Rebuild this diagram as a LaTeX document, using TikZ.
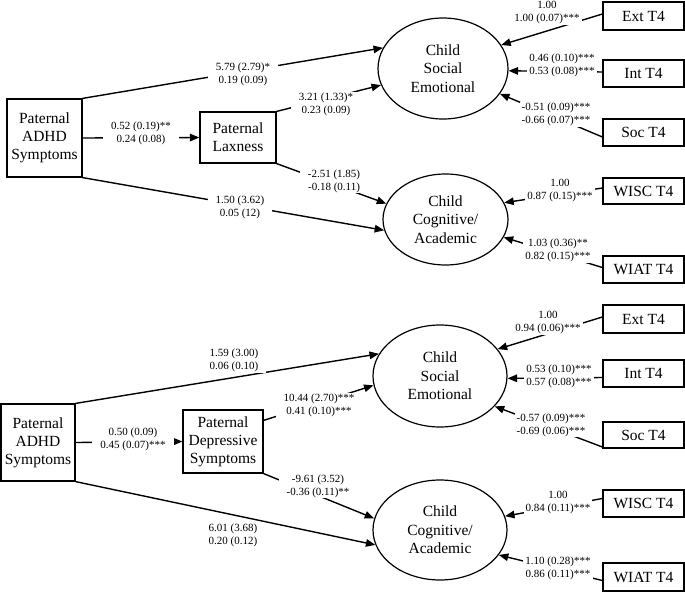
\documentclass[tikz,border=0pt]{standalone}
\usepackage{fontspec}
\setmainfont{Liberation Serif}
\usetikzlibrary{shapes.geometric,arrows.meta}
\pgfdeclarelayer{bg}
\pgfdeclarelayer{mid}
\pgfsetlayers{bg,mid,main}
\tikzset{
  box/.style={draw, line width=1.2pt, rectangle, inner sep=1pt, align=center,
    font=\fontsize{15.5}{18}\selectfont},
  lat/.style={draw, line width=1.2pt, ellipse, inner sep=0pt, align=center,
    font=\fontsize{15.5}{18.5}\selectfont},
  conn/.style={line width=1.4pt, -{Triangle[length=9.5pt,width=7.5pt]}},
  lab/.style={fill=white, inner xsep=8pt, inner ysep=1pt, align=center,
    font=\fontsize{11}{13}\selectfont},
  mlab/.style={lab, inner xsep=2pt}
}
\begin{document}
\begin{tikzpicture}[x=1pt,y=-1pt]
\useasboundingbox (0,0) rectangle (685,592);
% ---------- top panel ----------
\node[box, minimum width=75pt, minimum height=78pt] (adhd1) at (44.5,138) {Paternal\\ADHD\\Symptoms};
\node[box, minimum width=76pt, minimum height=51pt] (lax) at (238,137.5) {Paternal\\Laxness};
\node[lat, minimum width=130pt, minimum height=101pt] (se1) at (443,68.5) {Child\\Social\\Emotional};
\node[lat, minimum width=125pt, minimum height=91pt] (cog1) at (445.5,219.5) {Child\\Cognitive/\\Academic};
\node[box, minimum width=81pt, minimum height=28pt] (ext1) at (643.5,16) {Ext T4};
\node[box, minimum width=81pt, minimum height=27pt] (int1) at (643.5,73.5) {Int T4};
\node[box, minimum width=81pt, minimum height=27pt] (soc1) at (643.5,132.5) {Soc T4};
\node[box, minimum width=81pt, minimum height=26pt] (wisc1) at (643.5,191) {WISC T4};
\node[box, minimum width=81pt, minimum height=27pt] (wiat1) at (643.5,269.5) {WIAT T4};
% ---------- bottom panel ----------
\node[box, minimum width=74pt, minimum height=77pt] (adhd2) at (38,442.5) {Paternal\\ADHD\\Symptoms};
\node[box, minimum width=80pt, minimum height=63pt] (dep) at (223,441.5) {Paternal\\Depressive\\Symptoms};
\node[lat, minimum width=134pt, minimum height=102pt] (se2) at (440,376) {Child\\Social\\Emotional};
\node[lat, minimum width=134pt, minimum height=100pt] (cog2) at (440,530) {Child\\Cognitive/\\Academic};
\node[box, minimum width=81pt, minimum height=28pt] (ext2) at (643.5,319) {Ext T4};
\node[box, minimum width=81pt, minimum height=27pt] (int2) at (643.5,373.5) {Int T4};
\node[box, minimum width=81pt, minimum height=26pt] (soc2) at (643.5,435) {Soc T4};
\node[box, minimum width=81pt, minimum height=27pt] (wisc2) at (643.5,503.5) {WISC T4};
\node[box, minimum width=81pt, minimum height=28pt] (wiat2) at (643.5,577) {WIAT T4};

\begin{pgfonlayer}{bg}
% top structural
\draw[conn] (adhd1.north east) -- (se1.161);
\draw[conn] (adhd1.east) -- (lax.west);
\draw[conn] (lax.north east) -- (se1.195);
\draw[conn] (lax.south east) -- (cog1.165);
\draw[conn] (adhd1.south east) -- (cog1.190);
% top measurement
\draw[conn] ([yshift=2pt]ext1.west) -- (se1.22);
\draw[conn] ([yshift=1.5pt]int1.west) -- (se1.-2);
\draw[conn] ([yshift=-4.5pt]soc1.west) -- (se1.-24);
\draw[conn] ([yshift=3pt]wisc1.west) -- (cog1.16);
\draw[conn] ([yshift=2pt]wiat1.west) -- (cog1.-17);
% bottom structural
\draw[conn] (adhd2.north east) -- (se2.160);
\draw[conn] (adhd2.east) -- (dep.west);
\draw[conn] ([yshift=-11pt]dep.north east) -- (se2.188);
\draw[conn] (dep.south east) -- (cog2.170);
\draw[conn] (adhd2.south east) -- (cog2.193);
% bottom measurement
\draw[conn] ([yshift=2pt]ext2.west) -- (se2.25);
\draw[conn] ([yshift=-4pt]int2.west) -- (se2.-2);
\draw[conn] ([yshift=-12pt]soc2.west) -- (se2.-29);
\draw[conn] ([yshift=5pt]wisc2.west) -- (cog2.12);
\draw[conn] ([yshift=-3.5pt]wiat2.west) -- (cog2.-23);
\end{pgfonlayer}

\begin{pgfonlayer}{mid}
% top labels
\node[lab] (l1) at (243,74) {5.79 (2.79)*\\0.19 (0.09)};
\node[lab] (l2) at (141,133.5) {0.52 (0.19)**\\0.24 (0.08)};
\node[lab] (l3) at (326,104.5) {3.21 (1.33)*\\0.23 (0.09)};
\node[lab] (l4) at (334,181) {-2.51 (1.85)\\-0.18 (0.11)};
\node[lab] (l5) at (240,207) {1.50 (3.62)\\0.05 (12)};
\node[mlab] (l6) at (547,12.5) {1.00\\1.00 (0.07)***};
\node[mlab] (l7) at (562,65.5) {0.46 (0.10)***\\0.53 (0.08)***};
\node[mlab] (l8) at (556,114.5) {-0.51 (0.09)***\\-0.66 (0.07)***};
\node[mlab] (l9) at (560,191) {1.00\\0.87 (0.15)***};
\node[mlab] (l10) at (558,250.5) {1.03 (0.36)**\\0.82 (0.15)***};
% bottom labels
\node[lab] (m1) at (234,360.5) {1.59 (3.00)\\0.06 (0.10)};
\node[lab] (m2) at (133,439.5) {0.50 (0.09)\\0.45 (0.07)***};
\node[lab] (m3) at (319,405.5) {10.44 (2.70)***\\0.41 (0.10)***};
\node[lab] (m4) at (318,486) {-9.61 (3.52)\\-0.36 (0.11)**};
\node[lab] (m5) at (233,535) {6.01 (3.68)\\0.20 (0.12)};
\node[mlab] (m6) at (548,323) {1.00\\0.94 (0.06)***};
\node[mlab] (m7) at (559,376.5) {0.53 (0.10)***\\0.57 (0.08)***};
\node[mlab] (m8) at (551,425) {-0.57 (0.09)***\\-0.69 (0.06)***};
\node[mlab] (m9) at (558,503) {1.00\\0.84 (0.11)***};
\node[mlab] (m10) at (558,568.5) {1.10 (0.28)***\\0.86 (0.11)***};
\end{pgfonlayer}
\end{tikzpicture}
\end{document}
